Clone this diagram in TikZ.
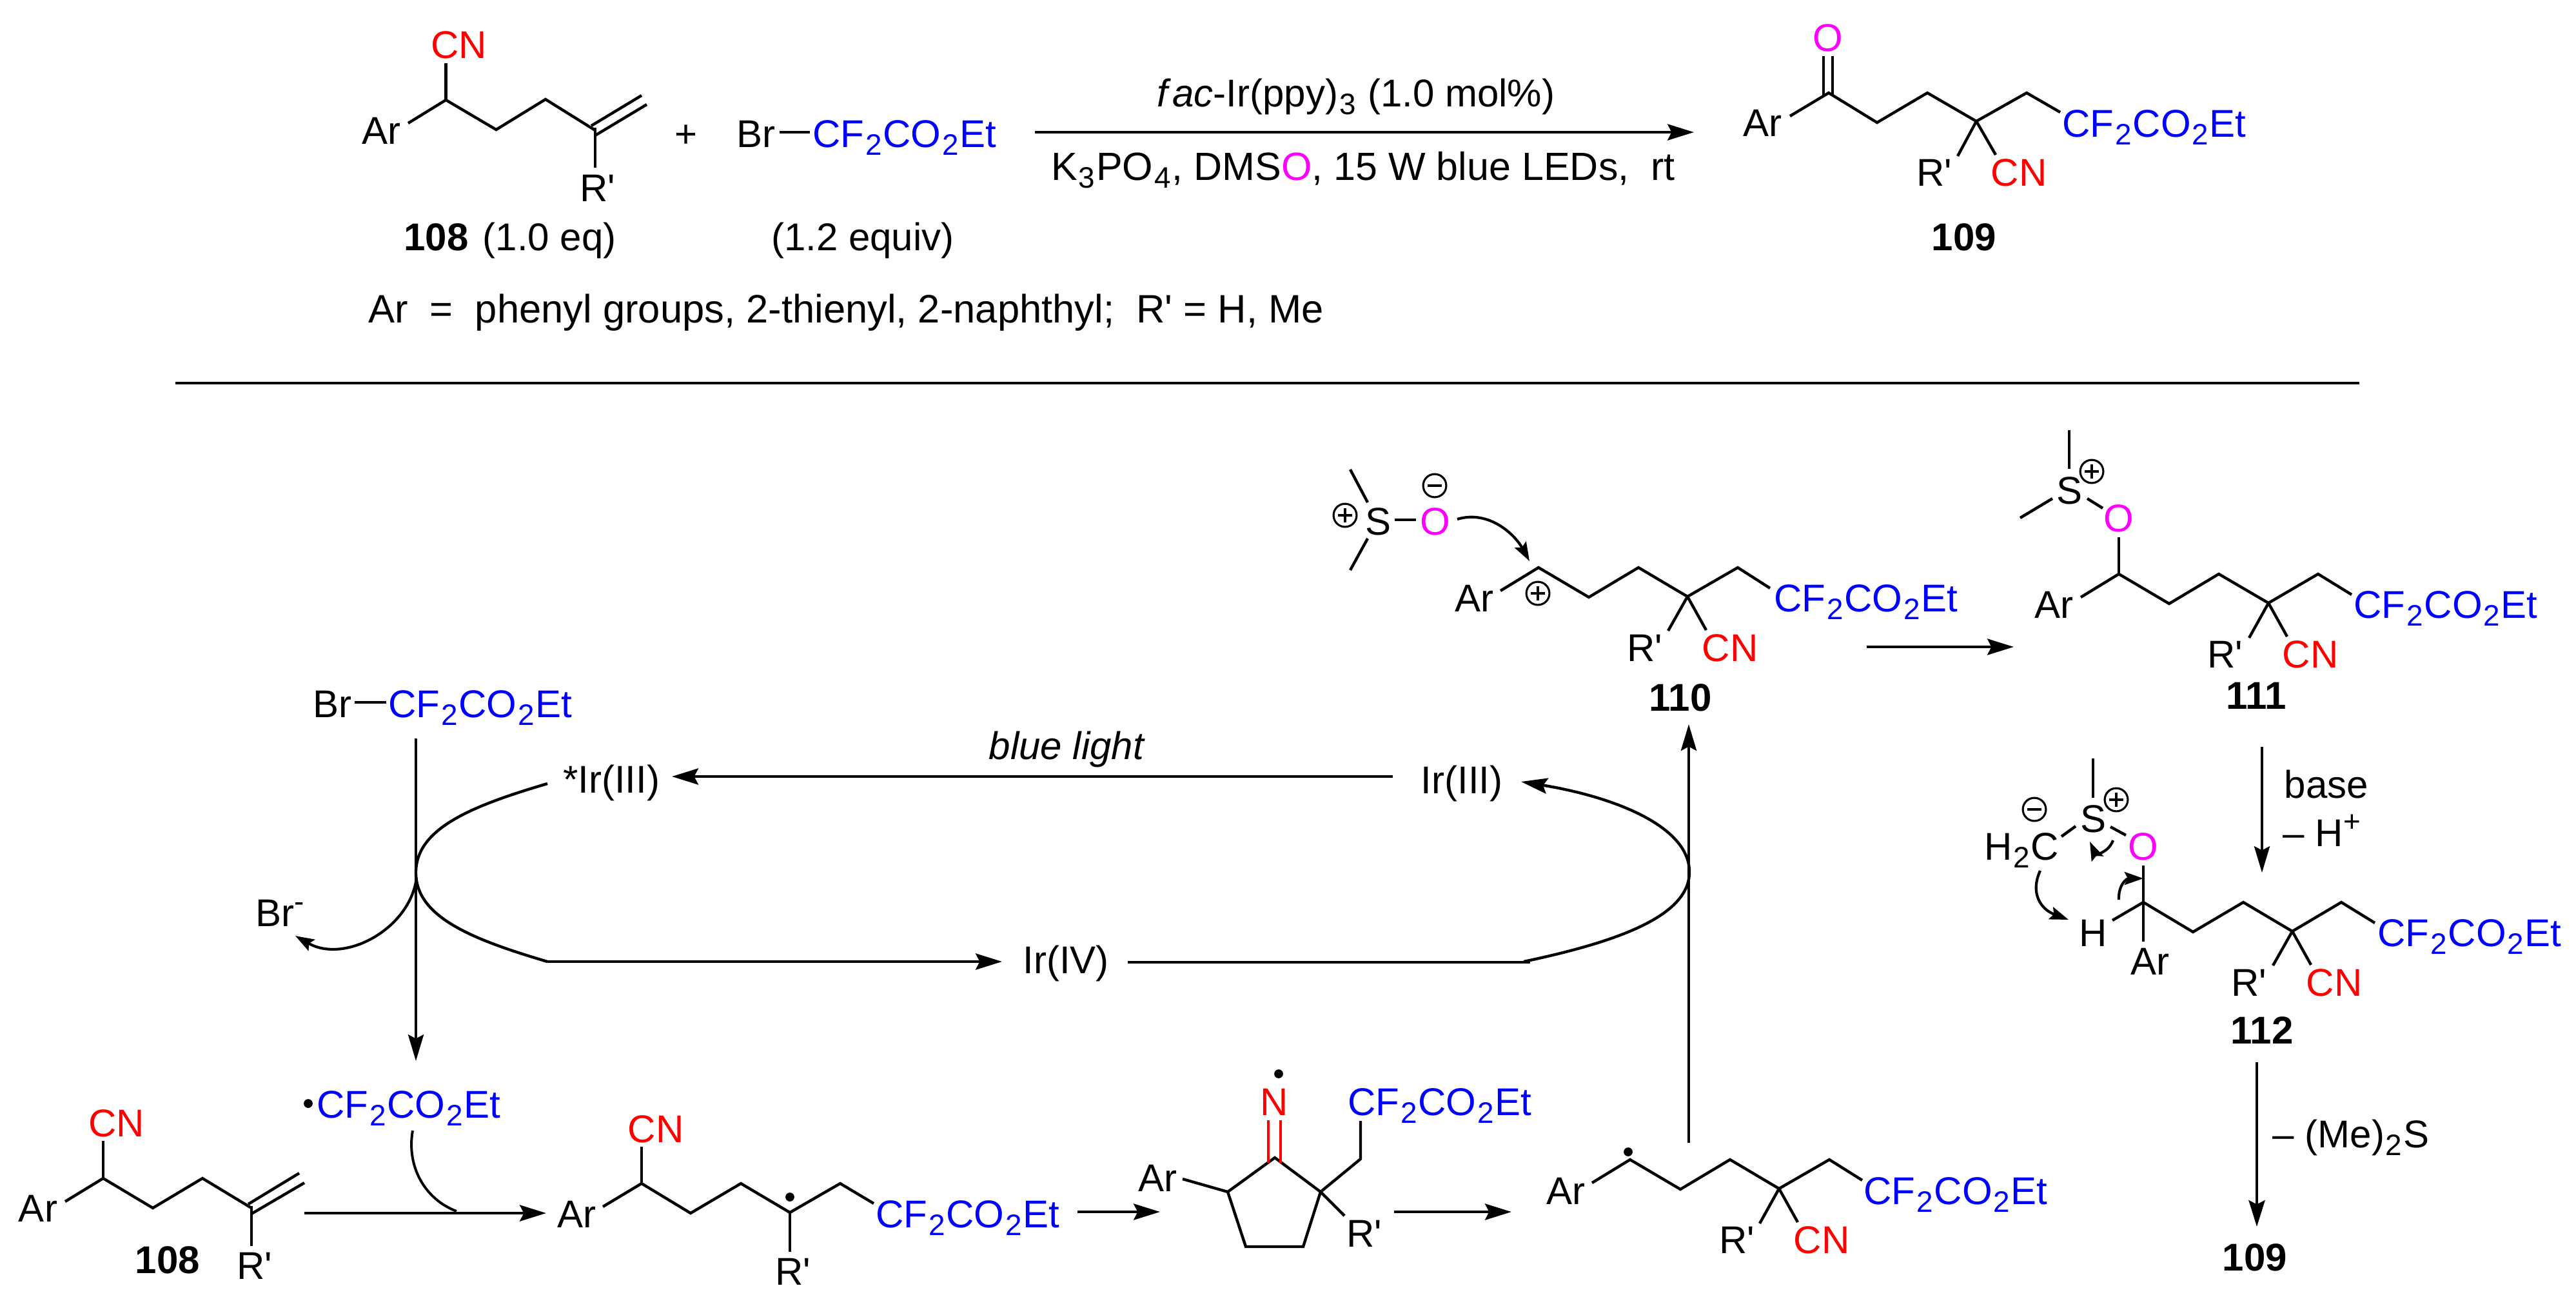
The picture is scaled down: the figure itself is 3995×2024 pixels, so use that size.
\documentclass[tikz,border=0pt]{standalone}
\usepackage{fontspec}
\setmainfont{Liberation Sans}
\usetikzlibrary{arrows.meta}
\definecolor{cfblue}{RGB}{0,0,255}
\definecolor{cnred}{RGB}{255,0,0}
\definecolor{omag}{RGB}{255,0,255}
\newcommand{\chemsub}[1]{\kern.45pt\relax\raisebox{-3.1pt}{\fontsize{11}{11}\selectfont #1}\kern.45pt\relax}
\newcommand{\chemsup}[1]{\raisebox{5.5pt}{\fontsize{11}{11}\selectfont #1}}
\newcommand{\cfe}{{\color{cfblue}CF\chemsub{2}CO\chemsub{2}Et}}
\newcommand{\cnr}{{\color{cnred}CN}}
\newcommand{\oxy}{{\color{omag}O}}
\newcommand{\Rp}{R\textquotesingle}
\tikzset{
  lbl/.style={inner sep=0pt,outer sep=0pt,anchor=base,font=\fontsize{14.4}{17}\selectfont},
  widelbl/.style={lbl,font=\fontsize{14.65}{17}\selectfont},
  arylbl/.style={lbl,font=\fontsize{14.76}{17}\selectfont},
  bold/.style={lbl,font=\fontsize{14.4}{17}\selectfont\bfseries},
  bond/.style={line width=1.05pt,line cap=butt,line join=miter},
  rxn/.style={line width=1.15pt,-{Stealth[length=9.8pt,width=6pt,inset=1.5pt]}},
  thinrxn/.style={line width=.95pt,-{Stealth[length=9.8pt,width=5.8pt,inset=1.5pt]}},
  curv/.style={line width=1pt,-{Stealth[length=7pt,width=4.8pt,inset=1.2pt]}},
  plain/.style={line width=1.05pt},
  chgbase/.style={circle,draw,line width=.75pt,minimum size=8.6pt,inner sep=0pt,outer sep=0pt},
  chgplus/.style={chgbase,path picture={
    \draw[line width=.8pt] ([xshift=-2.6pt]path picture bounding box.center)--([xshift=2.6pt]path picture bounding box.center);
    \draw[line width=.8pt] ([yshift=-2.6pt]path picture bounding box.center)--([yshift=2.6pt]path picture bounding box.center);}},
  chgminus/.style={chgbase,path picture={
    \draw[line width=.8pt] ([xshift=-2.6pt]path picture bounding box.center)--([xshift=2.6pt]path picture bounding box.center);}},
  radical/.style={circle,fill=black,minimum size=3.3pt,inner sep=0pt,outer sep=0pt},
}
\begin{document}
\begin{tikzpicture}[x=0.24pt,y=-0.24pt]
\useasboundingbox (0,0) rectangle (3995,2024);

% ---------- named arrow ends
\coordinate (mainS) at (1605,205);   \coordinate (mainE) at (2627,205);
\coordinate (ruleL) at (272,594);    \coordinate (ruleR) at (3659,594);
\coordinate (a110S) at (2895,1003);  \coordinate (a110E) at (3123,1003);
\coordinate (baseS) at (3508,1158);  \coordinate (baseE) at (3508,1353);
\coordinate (meS) at (3500,1647);    \coordinate (meE) at (3500,1902);
\coordinate (brS) at (645,1145);     \coordinate (brE) at (645,1645);
\coordinate (lightS) at (2160,1204); \coordinate (lightE) at (1042,1204);
\coordinate (ivS) at (849,1491);     \coordinate (ivE) at (1554,1491);
\coordinate (ivR) at (1749,1492);    \coordinate (ivC) at (2373,1492);
\coordinate (upS) at (2619,1772);    \coordinate (upE) at (2619,1123);
\coordinate (b1S) at (472,1881);     \coordinate (b1E) at (847,1881);
\coordinate (b2S) at (1671,1879);    \coordinate (b2E) at (1799,1879);
\coordinate (b3S) at (2162,1879);    \coordinate (b3E) at (2344,1879);
\coordinate (cL) at (645,1353);      \coordinate (cR) at (2620,1352);
\coordinate (topC) at (849,1215);    \coordinate (iiiT) at (2359,1212);
\coordinate (ivC2) at (2363,1491);   \coordinate (brMinus) at (458,1451);
\coordinate (brOrigin) at (646,1361);\coordinate (radS) at (640,1753);
\coordinate (radE) at (708,1878);

% ---------- scheme top: substrate 108
\node[lbl] (tAr) at (591,223) {Ar};
\node[lbl] (tCN) at (712,90) {\cnr};
\node[lbl] (tR) at (927,312) {\Rp};
\draw[bond] (691.5,98) -- (691.5,155);
\draw[bond] (633,191) -- (691.5,155) -- (769.5,201) -- (846,154) -- (923,202);
\draw[bond] (917,195) -- (995,148);
\draw[bond] (923,210) -- (1003,162);
\draw[bond] (923,198) -- (923,260);
\node[lbl] (tPlus) at (1064,228) {+};
\node[lbl] (tBr) at (1172,228) {Br};
\draw[bond] (1209,205) -- (1256,205);
\node[lbl] (tCF) at (1403,228) {\cfe};
\node[lbl] (t108) at (791,388) {\textbf{108}\kern1.4pt\relax\ (1.0 eq)};
\node[lbl] (tEq) at (1338,388) {(1.2 equiv)};
\node[arylbl] (tAryl) at (1312,500) {Ar\ \ =\ \ phenyl groups, 2-thienyl, 2-naphthyl;\ \ \Rp{} = H, Me};
\draw[rxn] (mainS) -- (mainE);
\node[lbl] (tCat) at (2103,165) {\textit{f\kern.12em ac}-Ir(ppy)\chemsub{3} (1.0 mol\%)};
\node[widelbl] (tCond) at (2114,279) {K\chemsub{3}PO\chemsub{4}, DMS\oxy, 15 W blue LEDs,\ \ rt};

% ---------- product 109
\node[lbl] (pO) at (2835,79) {\oxy};
\node[lbl] (pAr) at (2733,211) {Ar};
\node[lbl] (pCF) at (3341,212) {\cfe};
\node[lbl] (pR) at (3000,288) {\Rp};
\node[lbl] (pCN) at (3131,288) {\cnr};
\node[bold] (p109) at (3046,388) {109};
\draw[line width=.9pt] (2828,87) -- (2828,148);
\draw[line width=.9pt] (2842,87) -- (2842,148);
\draw[bond] (2776,180) -- (2836,144) -- (2911,190) -- (2989,144) -- (3065,188) -- (3143,144) -- (3195,174);
\draw[bond] (3065,188) -- (3036,242);
\draw[bond] (3065,188) -- (3095,240);

\draw[plain] (ruleL) -- (ruleR);

% ---------- 110
\node[lbl] (sS) at (2137,829) {S};
\node[lbl] (sO) at (2226,829) {\oxy};
\node[chgplus] (sP) at (2086,799) {};
\node[chgminus] (sM) at (2225,753) {};
\draw[bond] (2094,728) -- (2121,779);
\draw[bond] (2121,835) -- (2094,884);
\draw[bond] (2163,806) -- (2196,806);
\draw[curv] (2260,805) .. controls (2310,790) and (2350,830) .. (2372,870);
\node[lbl] (eAr) at (2286,948) {Ar};
\node[chgplus] (eP) at (2385,920) {};
\node[lbl] (eCF) at (2894,948) {\cfe};
\node[lbl] (eR) at (2551,1025) {\Rp};
\node[lbl] (eCN) at (2683,1025) {\cnr};
\node[bold] (e110) at (2606,1102) {110};
\draw[bond] (2327,916) -- (2386,880) -- (2464,926) -- (2541,880) -- (2617,925) -- (2695,880) -- (2745,912);
\draw[bond] (2617,925) -- (2587,978);
\draw[bond] (2617,925) -- (2646,977);
\draw[rxn] (a110S) -- (a110E);

% ---------- 111
\node[lbl] (fS) at (3209,781) {S};
\node[chgplus] (fP) at (3244,731) {};
\node[lbl] (fO) at (3286,824) {\oxy};
\node[lbl] (fAr) at (3185,958) {Ar};
\node[lbl] (fCF) at (3793,958) {\cfe};
\node[lbl] (fR) at (3451,1035) {\Rp};
\node[lbl] (fCN) at (3583,1035) {\cnr};
\node[bold] (f111) at (3499,1099) {111};
\draw[bond] (3209,667) -- (3209,727);
\draw[bond] (3183,773) -- (3133,803);
\draw[bond] (3237,773) -- (3261,788);
\draw[bond] (3286,833) -- (3286,890);
\draw[bond] (3227,926) -- (3286,890) -- (3364,936) -- (3441,890) -- (3518,935) -- (3595,890) -- (3647,922);
\draw[bond] (3518,935) -- (3488,989);
\draw[bond] (3518,935) -- (3547,987);

% ---------- 111 -> 112
\draw[thinrxn] (baseS) -- (baseE);
\node[lbl] (gBase) at (3608,1237) {base};
\node[lbl] (gH) at (3601,1312) {– H\chemsup{+}};

% ---------- 112
\node[lbl] (hS) at (3246,1290) {S};
\node[chgplus] (hP) at (3282,1240) {};
\node[chgminus] (hM) at (3155,1255) {};
\node[lbl] (hC) at (3135,1333) {H\chemsub{2}C};
\node[lbl] (hO) at (3324,1333) {\oxy};
\node[lbl] (hH) at (3246,1467) {H};
\node[lbl] (hAr) at (3334,1511) {Ar};
\node[lbl] (hCF) at (3830,1467) {\cfe};
\node[lbl] (hR) at (3488,1544) {\Rp};
\node[lbl] (hCN) at (3620,1544) {\cnr};
\node[bold] (h112) at (3508,1618) {112};
\draw[bond] (3246,1176) -- (3246,1237);
\draw[bond] (3197,1297) -- (3219,1281);
\draw[bond] (3273,1282) -- (3297,1295);
\draw[bond] (3324,1342) -- (3324,1460);
\draw[bond] (3276,1427) -- (3324,1399) -- (3401,1445) -- (3479,1399) -- (3555,1444) -- (3631,1399) -- (3683,1431);
\draw[bond] (3555,1444) -- (3525,1497);
\draw[bond] (3555,1444) -- (3584,1496);
\draw[curv] (3164,1350) .. controls (3148,1385) and (3165,1410) .. (3208,1426);
\draw[curv] (3286,1395) .. controls (3285,1372) and (3298,1362) .. (3324,1362);
\draw[curv] (3277,1303) .. controls (3270,1322) and (3250,1325) .. (3241,1305);

% ---------- 112 -> 109
\draw[rxn] (meS) -- (meE);
\node[lbl] (iMe) at (3646,1779) {– (Me)\chemsub{2}S};
\node[bold] (i109) at (3497,1970) {109};

% ---------- catalytic cycle
\node[lbl] (cBr) at (515,1112) {Br};
\draw[bond] (550,1089) -- (599,1089);
\node[lbl] (cCF) at (745,1112) {\cfe};
\draw[thinrxn] (brS) -- (brE);
\node[lbl] (cIrs) at (948,1229) {*Ir(III)};
\node[lbl] (cLight) at (1655,1177) {\textit{blue light}};
\node[lbl] (cIr3) at (2267,1230) {Ir(III)};
\node[lbl] (cIr4) at (1653,1509) {Ir(IV)};
\node[lbl] (cBrm) at (434,1436) {Br\chemsup{-}};
\draw[rxn] (lightS) -- (lightE);
\draw[plain] (topC) .. controls (730,1250) and (645,1285) .. (cL)
             .. controls (645,1421) and (730,1456) .. (ivS);
\draw[rxn] (ivS) -- (ivE);
\draw[plain] (ivR) -- (ivC);
\draw[line width=1.05pt,-{Stealth[length=9.8pt,width=5.8pt,inset=1.5pt]}] (ivC2) .. controls (2510,1460) and (2620,1420) .. (cR)
             .. controls (2620,1280) and (2500,1235) .. (iiiT);
\draw[curv] (brOrigin) .. controls (636,1440) and (535,1495) .. (brMinus);
\draw[thinrxn] (upS) -- (upE);

% ---------- bottom: 108
\node[lbl] (bCN) at (181,1762) {\cnr};
\node[lbl] (bAr) at (59,1894) {Ar};
\node[lbl] (bR) at (395,1983) {\Rp};
\node[bold] (b108) at (260,1974) {108};
\draw[bond] (160,1769) -- (160,1827);
\draw[bond] (101,1863) -- (160,1827) -- (237,1873) -- (314,1827) -- (390,1873);
\draw[bond] (385,1867) -- (464,1819);
\draw[bond] (390,1882) -- (472,1834);
\draw[bond] (390,1870) -- (390,1932);
\node[radical] (bDot) at (478,1711) {};
\node[lbl] (bCF) at (634,1733) {\cfe};
\draw[rxn] (b1S) -- (b1E);
\draw[line width=.95pt] (radS) .. controls (630,1810) and (660,1860) .. (radE);

% ---------- bottom: radical adduct
\node[lbl] (aCN) at (1017,1771) {\cnr};
\node[lbl] (aAr) at (894,1903) {Ar};
\node[lbl] (aR) at (1230,1992) {\Rp};
\node[radical] (aDot) at (1225,1856) {};
\node[lbl] (aCF) at (1501,1903) {\cfe};
\draw[bond] (995,1778) -- (995,1835);
\draw[bond] (935,1871) -- (995,1835) -- (1071,1881) -- (1149,1835) -- (1225,1880) -- (1303,1835) -- (1355,1866);
\draw[bond] (1225,1880) -- (1225,1941);
\draw[rxn] (b2S) -- (b2E);

% ---------- bottom: cyclic iminyl radical
\node[lbl] (rAr) at (1795,1847) {Ar};
\node[lbl] (rN) at (1976,1729) {\color{cnred}N};
\node[radical] (rDot) at (1983,1665) {};
\node[lbl] (rCF) at (2233,1729) {\cfe};
\node[lbl] (rR) at (2116,1933) {\Rp};
\draw[bond] (1904,1848) -- (1977,1795) -- (2048,1848) -- (2021,1933) -- (1932,1933) -- cycle;
\draw[bond] (1834,1828) -- (1904,1848);
\draw[line width=.85pt,cnred] (1967,1737) -- (1967,1803);
\draw[line width=.85pt,cnred] (1986,1737) -- (1986,1803);
\draw[bond] (2048,1848) -- (2110,1797) -- (2110,1738);
\draw[bond] (2048,1848) -- (2085,1885);
\draw[rxn] (b3S) -- (b3E);

% ---------- bottom: open-chain radical
\node[lbl] (oAr) at (2428,1867) {Ar};
\node[radical] (oDot) at (2525,1786) {};
\node[lbl] (oR) at (2694,1943) {\Rp};
\node[lbl] (oCN) at (2825,1943) {\cnr};
\node[lbl] (oCF) at (3033,1867) {\cfe};
\draw[bond] (2469,1834) -- (2528,1798) -- (2606,1844) -- (2683,1798) -- (2759,1843) -- (2837,1798) -- (2888,1830);
\draw[bond] (2759,1843) -- (2729,1897);
\draw[bond] (2759,1843) -- (2788,1895);
\end{tikzpicture}
\end{document}
